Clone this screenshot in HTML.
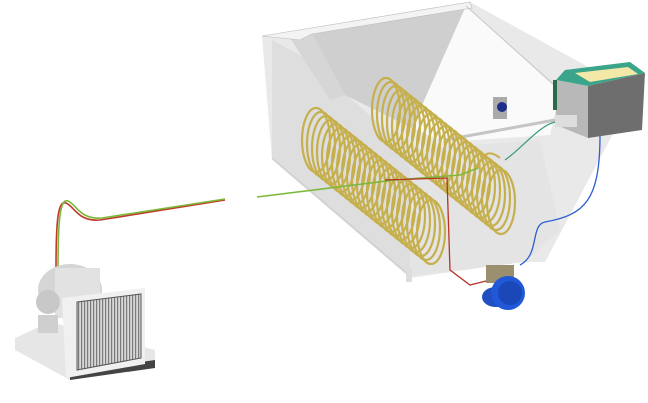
<!DOCTYPE html>
<html><head><style>html,body{margin:0;padding:0;background:#fff;}svg{display:block}</style></head>
<body>
<svg width="648" height="403" viewBox="0 0 648 403" xmlns="http://www.w3.org/2000/svg">
<defs>
<pattern id="fins" width="3" height="10" patternUnits="userSpaceOnUse"><rect width="3" height="10" fill="#d8d8d8"/><rect width="1.2" height="10" fill="#7a7a7a"/></pattern>
</defs>
<!-- hopper outer -->
<polygon points="262,36 470,2 590,68 615,130 545,262 520,262 410,278 272,160" fill="#e9e9e9"/>
<polygon points="272,40 272,158 410,276 410,150 300,55" fill="#dedede"/>
<polygon points="410,150 410,276 525,262 560,230 540,140" fill="#e4e4e4"/>
<polygon points="310,30 466,6 412,128 345,95" fill="#cfcfcf"/>
<polygon points="466,6 560,92 550,135 445,142 412,128" fill="#fafafa"/>
<polygon points="290,38 310,30 345,95 330,100" fill="#d6d6d6"/>
<polygon points="262,36 470,2 472,8 312,34 300,40" fill="#f3f3f3" stroke="#bbb" stroke-width="0.6"/>
<line x1="466" y1="6" x2="560" y2="90" stroke="#c8c8c8" stroke-width="1"/>
<line x1="445" y1="140" x2="555" y2="120" stroke="#c5c5c5" stroke-width="3"/>
<line x1="272" y1="158" x2="410" y2="276" stroke="#c8c8c8" stroke-width="1"/>
<rect x="406" y="268" width="6" height="14" fill="#ddd"/>
<rect x="493" y="97" width="14" height="22" fill="#aaa"/><circle cx="502" cy="107" r="5" fill="#1e2f8a"/>
<!-- coils -->
<g fill="none" stroke="#c6b04e" stroke-width="2.2">
<g id="c1">
<ellipse cx="316" cy="140" rx="14" ry="32"/><ellipse cx="321" cy="144" rx="14" ry="32"/><ellipse cx="326" cy="148" rx="14" ry="32"/><ellipse cx="331" cy="152" rx="14" ry="32"/><ellipse cx="336" cy="156" rx="14" ry="32"/><ellipse cx="341" cy="160" rx="14" ry="32"/><ellipse cx="346" cy="164" rx="14" ry="32"/><ellipse cx="351" cy="168" rx="14" ry="32"/><ellipse cx="356" cy="172" rx="14" ry="32"/><ellipse cx="361" cy="176" rx="14" ry="32"/><ellipse cx="366" cy="180" rx="14" ry="32"/><ellipse cx="371" cy="184" rx="14" ry="32"/><ellipse cx="376" cy="188" rx="14" ry="32"/><ellipse cx="381" cy="192" rx="14" ry="32"/><ellipse cx="386" cy="196" rx="14" ry="32"/><ellipse cx="391" cy="200" rx="14" ry="32"/><ellipse cx="396" cy="204" rx="14" ry="32"/><ellipse cx="401" cy="208" rx="14" ry="32"/><ellipse cx="406" cy="212" rx="14" ry="32"/><ellipse cx="411" cy="216" rx="14" ry="32"/><ellipse cx="416" cy="220" rx="14" ry="32"/><ellipse cx="421" cy="224" rx="14" ry="32"/><ellipse cx="426" cy="228" rx="14" ry="32"/><ellipse cx="431" cy="232" rx="14" ry="32"/>
</g>
<use href="#c1" transform="translate(70,-30)"/>
</g>
<!-- wires -->
<g fill="none" stroke-width="1.6">
<path d="M56,268 C56,220 58,200 66,203 C74,206 78,222 100,220 L225,200" stroke="#c03a2a"/>
<path d="M58,268 C58,220 60,198 68,201 C76,204 80,220 102,218 L225,199" stroke="#7cb83a"/>
<path d="M257,197 L395,180 L460,175 L478,168" stroke="#7cb83a"/>
<path d="M385,180 L447,178 L450,270 L470,285 L490,280" stroke="#b83226" stroke-width="1.3"/>
<path d="M505,160 C520,150 540,125 555,122" stroke="#3a9a7a" stroke-width="1.2"/>
<path d="M600,135 C600,200 585,215 545,222 C530,225 540,255 520,265" stroke="#2a5ed0" stroke-width="1.3"/>
<path d="M478,168 C482,152 490,150 500,158" stroke="#c8b048" stroke-width="2"/>
</g>
<!-- control box -->
<polygon points="556,80 565,70 630,62 645,73 588,86" fill="#3aa58a"/>
<polygon points="575,73 628,67 638,74 590,82" fill="#f3e8a8"/>
<polygon points="556,80 588,86 588,138 556,125" fill="#b8b8b8"/>
<polygon points="588,86 645,73 642,130 588,138" fill="#6e6e6e"/>
<rect x="553" y="80" width="4" height="30" fill="#2a6a4a"/>
<rect x="555" y="115" width="22" height="12" fill="#ddd"/>
<!-- motor -->
<rect x="486" y="265" width="28" height="18" fill="#9a9070"/>
<ellipse cx="496" cy="297" rx="14" ry="10" fill="#1f4fc0"/>
<circle cx="508" cy="293" r="17" fill="#2058d8"/>
<circle cx="510" cy="293" r="12" fill="#1a48b8"/>
<!-- left unit -->
<polygon points="15,338 50,322 155,350 155,368 70,380 15,350" fill="#e6e6e6"/>
<polygon points="70,372 155,360 155,368 70,380" fill="#444"/>
<ellipse cx="70" cy="290" rx="32" ry="26" fill="#d5d5d5"/>
<rect x="55" y="268" width="45" height="50" fill="#e2e2e2"/>
<ellipse cx="48" cy="302" rx="12" ry="12" fill="#c8c8c8"/>
<rect x="38" y="315" width="20" height="18" fill="#cfcfcf"/>
<polygon points="62,298 145,288 145,364 66,378" fill="#f0f0f0"/>
<polygon points="77,302 141,294 141,358 77,370" fill="url(#fins)" stroke="#555" stroke-width="1"/>
</svg>
</body></html>
